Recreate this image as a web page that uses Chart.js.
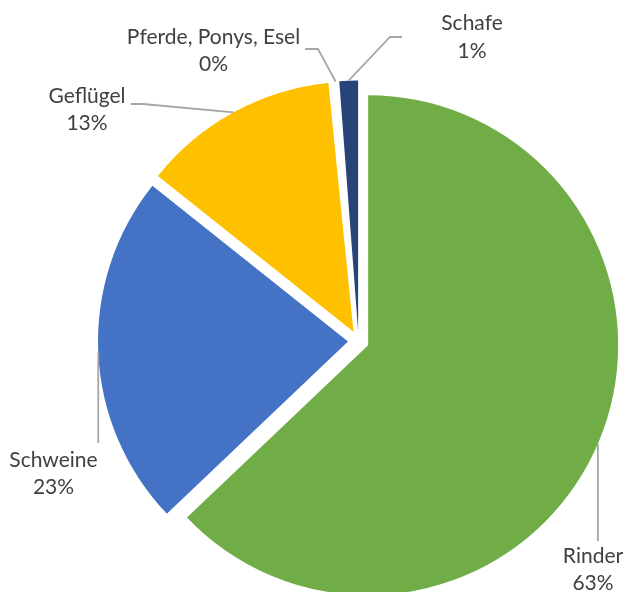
<!DOCTYPE html>
<html>
<head>
<meta charset="utf-8">
<script src="https://cdn.jsdelivr.net/npm/chart.js@4/dist/chart.umd.min.js"></script>
<style>
  html, body { margin: 0; padding: 0; background: #ffffff; }
  #wrap { width: 627px; height: 592px; }
</style>
</head>
<body>
<div id="wrap"><canvas id="c" width="627" height="592"></canvas></div>
<script>
// ---- data ----
const categories = ['Rinder', 'Schweine', 'Geflügel', 'Pferde, Ponys, Esel', 'Schafe'];
const shares = [62.9, 22.8, 12.7, 0.4, 1.2];   // percent of total
const sliceColors = ['#70AD47', '#4472C4', '#FFC000', '#FFFFFF', '#264478'];

// ---- label placement (layout only) ----
const labelLayout = [
  { x: 593, y: 562.5, drop: 541 },
  { x: 53.5, y: 466.5, drop: 443 },
  { x: 87, y: 102.5, path: [[143, 104], [131, 104]] },
  { x: 213.5, y: 43.5, path: [[318, 49], [305, 49]] },
  { x: 472, y: 30, path: [[390, 37], [402, 37]] }
];

// Exploded pie: every slice is moved out by the same distance, radius unchanged
class ExplodedArc extends Chart.ArcElement {
  draw(ctx) {
    const { x, y, startAngle, endAngle, outerRadius, options } = this;
    if (!(endAngle - startAngle > 0)) return;
    const mid = (startAngle + endAngle) / 2;
    const t = options.offset || 0;
    const cx = x + Math.cos(mid) * t, cy = y + Math.sin(mid) * t;
    ctx.save();
    ctx.fillStyle = options.backgroundColor;
    ctx.beginPath();
    ctx.moveTo(cx, cy);
    ctx.arc(cx, cy, outerRadius, startAngle, endAngle);
    ctx.closePath();
    ctx.fill();
    ctx.restore();
  }
}
ExplodedArc.id = 'explodedArc';
class ExplodedPie extends Chart.PieController {}
ExplodedPie.id = 'explodedPie';
ExplodedPie.defaults = { dataElementType: 'explodedArc' };
Chart.register(ExplodedArc, ExplodedPie);

const pieLabels = {
  id: 'pieLabels',
  afterDatasetsDraw(chart) {
    const ctx = chart.ctx;
    const meta = chart.getDatasetMeta(0);
    const data = chart.data.datasets[0].data;
    const total = data.reduce((a, b) => a + b, 0);
    ctx.save();
    meta.data.forEach((arc, i) => {
      const spec = labelLayout[i];
      const mid = (arc.startAngle + arc.endAngle) / 2;
      const t = arc.options.offset || 0;
      const cx = arc.x + Math.cos(mid) * t, cy = arc.y + Math.sin(mid) * t;
      const sx = cx + Math.cos(mid) * arc.outerRadius;
      const sy = cy + Math.sin(mid) * arc.outerRadius;
      ctx.strokeStyle = '#A6A6A6';
      ctx.lineWidth = 1.8;
      ctx.beginPath();
      ctx.moveTo(sx, sy);
      if (spec.drop !== undefined) {
        ctx.lineTo(sx, spec.drop);
      } else {
        spec.path.forEach(p => ctx.lineTo(p[0], p[1]));
      }
      ctx.stroke();
      ctx.fillStyle = '#404040';
      ctx.font = '21px Lato, "Open Sans", sans-serif';
      ctx.textAlign = 'center';
      ctx.textBaseline = 'alphabetic';
      ctx.fillText(chart.data.labels[i], spec.x, spec.y);
      ctx.fillText(Math.round(data[i] / total * 100) + '%', spec.x, spec.y + 27.7);
    });
    ctx.restore();
  }
};

new Chart(document.getElementById('c'), {
  type: 'explodedPie',
  data: {
    labels: categories,
    datasets: [{
      data: shares,
      backgroundColor: sliceColors,
      borderWidth: 0,
      offset: 10.5
    }]
  },
  options: {
    responsive: false,
    animation: false,
    events: [],
    radius: 250,
    layout: { padding: { left: 90, top: 90, right: 0, bottom: 0 } },
    plugins: { legend: { display: false }, tooltip: { enabled: false }, title: { display: false } }
  },
  plugins: [pieLabels]
});
</script>
</body>
</html>
